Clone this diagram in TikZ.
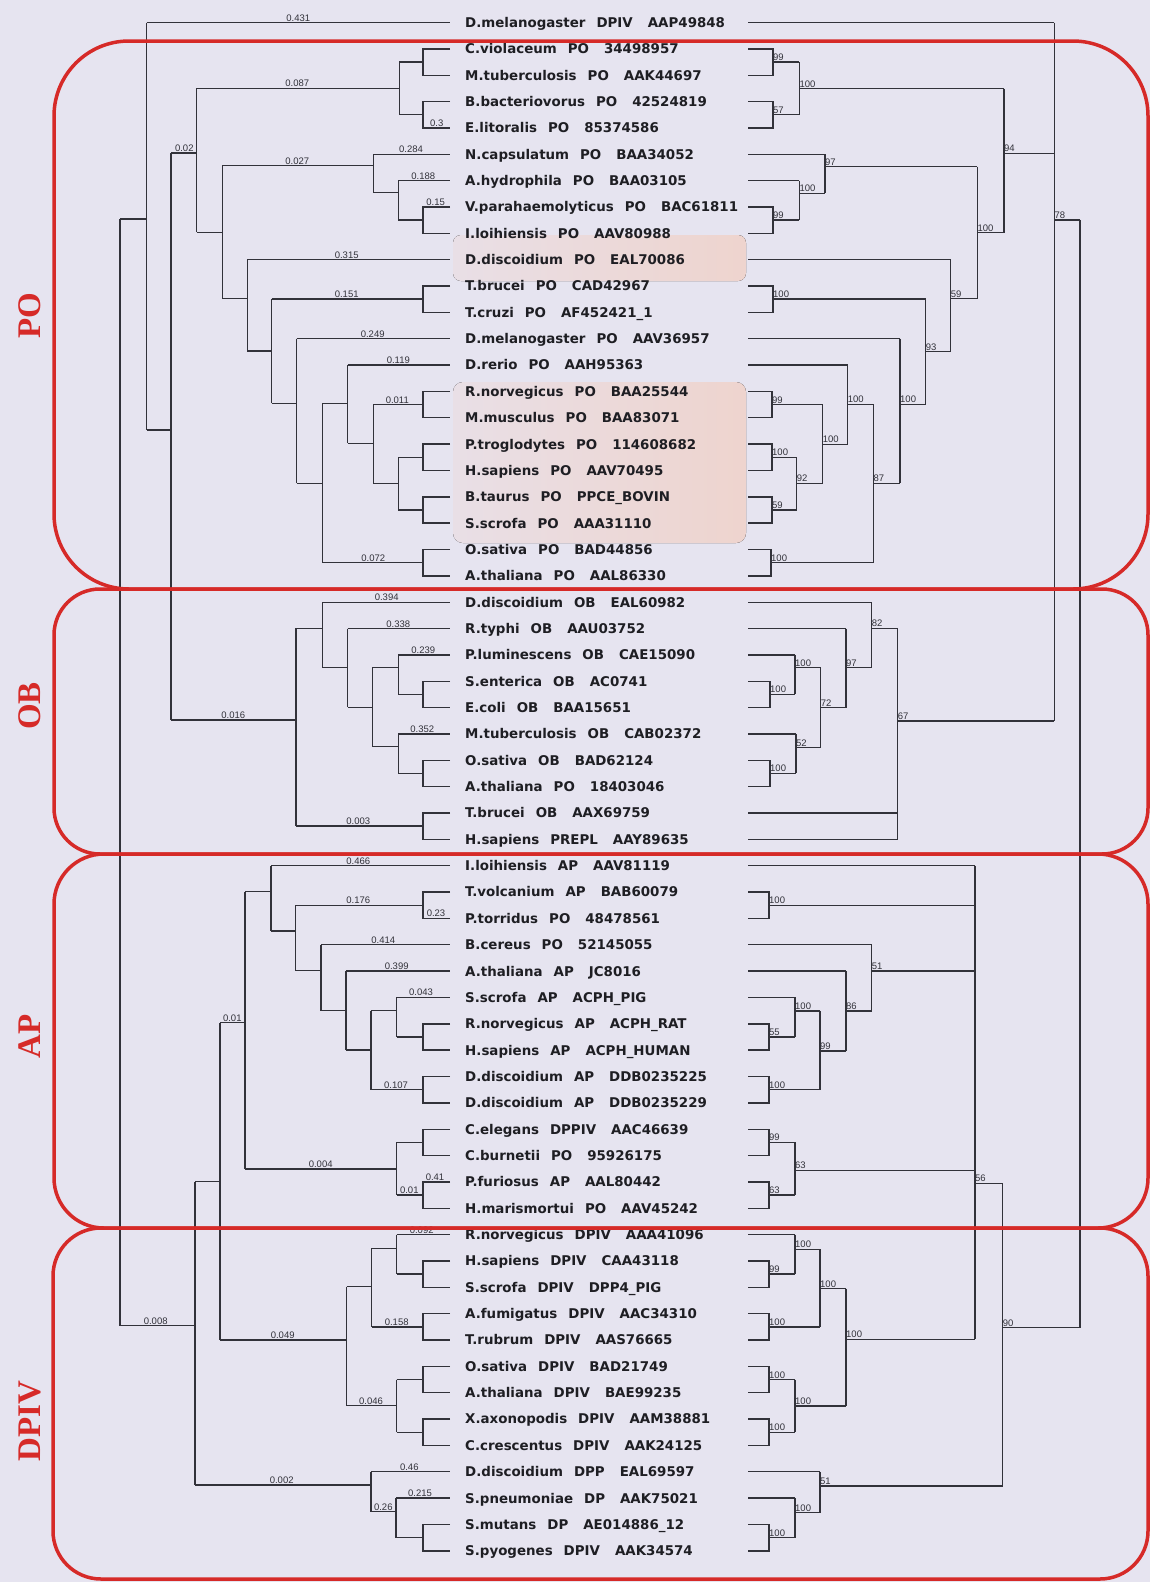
\documentclass[tikz,border=0pt]{standalone}
\usepackage{fontspec}
\newfontfamily\labfont{DejaVu Sans}
\newfontfamily\numfont{Liberation Sans}
\newfontfamily\grpfont{Liberation Serif}
\definecolor{bgc}{RGB}{230,228,240}
\definecolor{brc}{RGB}{50,50,58}
\definecolor{redc}{RGB}{214,42,40}
\definecolor{peach}{RGB}{238,212,206}
\definecolor{peachl}{RGB}{233,223,230}
\definecolor{txt}{RGB}{30,30,35}
\newcommand\trV[3]{\draw[br] (#1,{#2}) -- (#1,{#3});}
\newcommand\trH[3]{\draw[br] (#1,{#3}) -- (#2,{#3});}
\newcommand\trLeafL[2]{\draw[br] (#2,{ly(#1)}) -- (450,{ly(#1)});}
\newcommand\trCherryL[2]{\draw[br] (450,{ly(#1)}) -- (423,{ly(#1)}) -- (423,{ly(#1+1)}) -- (450,{ly(#1+1)}); \draw[br] (#2,{pm(#1)}) -- (423,{pm(#1)});}
\newcommand\trLeafR[2]{\draw[br] (748,{ly(#1)}) -- (#2,{ly(#1)});}
\newcommand\trCherryR[4]{\draw[br] (748,{ly(#1)}) -- (#2,{ly(#1)}) -- (#2,{ly(#1+1)}) -- (748,{ly(#1+1)}); \draw[br] (#2,{pm(#1)}) -- (#4,{pm(#1)}); \node[boot] at (#2,{pm(#1)-1.5}) {#3};}
\newcommand\trNodeR[6]{\draw[br] (#1,{#2}) -- (#1,{#3}); \draw[br] (#1,{#4}) -- (#5,{#4}); \node[boot] at (#1,{#4-1.5}) {#6};}
\newcommand\trBL[3]{\node[blen] at (#1,{#2-1.5}) {#3};}
\newcommand\trLab[4]{\node[leaflab] (L#1) at (465,{ly(#1)+4.9}) {#2\hspace{11pt}#3\hspace{15pt}#4};}
\begin{document}
\begin{tikzpicture}[x=1pt,y=-1pt,
  declare function={ly(\n)=22.5+(\n-1)*26.35; pm(\n)=22.5+(\n-0.5)*26.35;},
  br/.style={draw=brc,line width=1.4pt},
  boot/.style={font=\numfont\fontsize{9.5}{10}\selectfont,anchor=base west,inner sep=0pt,text=brc},
  blen/.style={font=\numfont\fontsize{9.5}{10}\selectfont,anchor=base,inner sep=0pt,text=brc},
  leaflab/.style={font=\labfont\bfseries\fontsize{13.4}{14}\selectfont,anchor=base west,inner sep=0pt,text=txt},
  redbox/.style={draw=redc,line width=3.5pt},
  grp/.style={font=\grpfont\bfseries\fontsize{33}{36}\selectfont,text=redc,rotate=90,inner sep=0pt}]
\useasboundingbox (0,0) rectangle (1150,1582);
\fill[bgc] (0,0) rectangle (1150,1582);
% faint highlight patches
\fill[rounded corners=8pt,left color=peachl,right color=peach] (453,235) rectangle (746,281);
\fill[rounded corners=10pt,left color=peachl,right color=peach] (453,382) rectangle (746,543);
% ---------------- left tree ----------------
\trV{120}{219}{1325.7} \trH{120}{146.7}{219} \trH{120}{195}{1325.7}
\trV{146.7}{ly(1)}{430} \trLeafL{1}{146.7} \trH{146.7}{171}{430}
\trV{171}{153}{720} \trH{171}{196.7}{153} \trH{171}{296}{720}
\trV{196.7}{88.3}{232.3} \trH{196.7}{399.3}{88.3} \trH{196.7}{222.3}{232.3}
\trV{399.3}{pm(2)}{pm(4)} \trCherryL{2}{399.3} \trCherryL{4}{399.3}
\trV{222.3}{165.7}{298.3} \trH{222.3}{373.3}{165.7} \trH{222.3}{247.3}{298.3}
\trV{373.3}{ly(6)}{192.7} \trLeafL{6}{373.3} \trH{373.3}{398.3}{192.7}
\trV{398.3}{ly(7)}{pm(8)} \trLeafL{7}{398.3} \trCherryL{8}{398.3}
\trV{247.3}{ly(10)}{351} \trLeafL{10}{247.3} \trH{247.3}{271.7}{351}
\trV{271.7}{pm(11)}{403.3} \trCherryL{11}{271.7} \trH{271.7}{296.7}{403.3}
\trV{296.7}{ly(13)}{483.3} \trLeafL{13}{296.7} \trH{296.7}{322.3}{483.3}
\trV{322.3}{403.3}{pm(21)} \trH{322.3}{347.7}{403.3} \trCherryL{21}{322.3}
\trV{347.7}{ly(14)}{443.3} \trLeafL{14}{347.7} \trH{347.7}{373.3}{443.3}
\trV{373.3}{pm(15)}{483.3} \trCherryL{15}{373.3} \trH{373.3}{398.3}{483.3}
\trV{398.3}{pm(17)}{pm(19)} \trCherryL{17}{398.3} \trCherryL{19}{398.3}
\trV{296}{628.3}{pm(31)} \trH{296}{322.3}{628.3} \trCherryL{31}{296}
\trV{322.3}{ly(23)}{667.3} \trLeafL{23}{322.3} \trH{322.3}{347.7}{667.3}
\trV{347.7}{ly(24)}{707.3} \trLeafL{24}{347.7} \trH{347.7}{372.7}{707.3}
\trV{372.7}{667.3}{746.7} \trH{372.7}{398.3}{667.3} \trH{372.7}{398.3}{746.7}
\trV{398.3}{ly(25)}{pm(26)} \trLeafL{25}{398.3} \trCherryL{26}{398.3}
\trV{398.3}{ly(28)}{pm(29)} \trLeafL{28}{398.3} \trCherryL{29}{398.3}
\trV{195}{1181.7}{1485} \trH{195}{220}{1181.7} \trH{195}{371}{1485}
\trV{220}{1022.7}{1340} \trH{220}{245}{1022.7} \trH{220}{346.7}{1340}
\trV{245}{891.7}{1169} \trH{245}{271}{891.7} \trH{245}{396.7}{1169}
\trV{271}{ly(33)}{931} \trLeafL{33}{271} \trH{271}{295.7}{931}
\trV{295.7}{pm(34)}{970.7} \trCherryL{34}{295.7} \trH{295.7}{321}{970.7}
\trV{321}{ly(36)}{1010.7} \trLeafL{36}{321} \trH{321}{346}{1010.7}
\trV{346}{ly(37)}{1050} \trLeafL{37}{346} \trH{346}{371}{1050}
\trV{371}{1010.7}{pm(41)} \trH{371}{396.7}{1010.7} \trCherryL{41}{371}
\trV{396.7}{ly(38)}{pm(39)} \trLeafL{38}{396.7} \trCherryL{39}{396.7}
\trV{396.7}{pm(43)}{pm(45)} \trCherryL{43}{396.7} \trCherryL{45}{396.7}
\trV{346.7}{1286.7}{1405.7} \trH{346.7}{371.7}{1286.7} \trH{346.7}{396.7}{1405.7}
\trV{371.7}{1248.3}{pm(50)} \trH{371.7}{396.7}{1248.3} \trCherryL{50}{371.7}
\trV{396.7}{ly(47)}{pm(48)} \trLeafL{47}{396.7} \trCherryL{48}{396.7}
\trV{396.7}{pm(52)}{pm(54)} \trCherryL{52}{396.7} \trCherryL{54}{396.7}
\trV{371}{ly(56)}{1511.7} \trLeafL{56}{371} \trH{371}{396}{1511.7}
\trV{396}{ly(57)}{pm(58)} \trLeafL{57}{396} \trCherryL{58}{396}
% branch lengths
\trBL{298.3}{22.5}{0.431} \trBL{297.3}{88.3}{0.087} \trBL{184.3}{153}{0.02}
\trBL{436.7}{127.9}{0.3} \trBL{411}{154.25}{0.284} \trBL{297.3}{165.7}{0.027}
\trBL{423.3}{180.6}{0.188} \trBL{435.7}{206.95}{0.15} \trBL{346.7}{259.65}{0.315}
\trBL{346.7}{299.2}{0.151} \trBL{372.7}{338.7}{0.249} \trBL{398.3}{365.05}{0.119}
\trBL{397.3}{404.6}{0.011} \trBL{373.3}{562.7}{0.072} \trBL{386.7}{602.2}{0.394}
\trBL{398.3}{628.55}{0.338} \trBL{423.3}{654.9}{0.239} \trBL{233.3}{720}{0.016}
\trBL{422.3}{733.95}{0.352} \trBL{358.3}{826.2}{0.003} \trBL{358.3}{865.7}{0.466}
\trBL{358.3}{905.2}{0.176} \trBL{436}{918.4}{0.23} \trBL{383.3}{944.75}{0.414}
\trBL{396.7}{971.1}{0.399} \trBL{421}{997.45}{0.043} \trBL{232.3}{1022.7}{0.01}
\trBL{396}{1089.7}{0.107} \trBL{320.7}{1169}{0.004} \trBL{409.3}{1195.1}{0.01}
\trBL{435}{1181.9}{0.41} \trBL{155.7}{1325.7}{0.008} \trBL{282.7}{1340}{0.049}
\trBL{396.7}{1326.8}{0.158} \trBL{371}{1405.7}{0.046} \trBL{281.7}{1485}{0.002}
\trBL{409.3}{1471.75}{0.46} \trBL{383.3}{1511.7}{0.26} \trBL{420}{1498.1}{0.215}
\trBL{421.7}{1234.6}{0.092}
% ---------------- right tree ----------------
\trLeafR{1}{1054.3}
\trCherryR{2}{773}{99}{799.3}
\trCherryR{4}{773}{57}{799.3}
\trNodeR{799.3}{pm(2)}{pm(4)}{88.5}{1004}{100}
\trNodeR{1004}{88.5}{232.5}{153.2}{1054.3}{94}
\trLeafR{6}{825}
\trNodeR{825}{ly(6)}{193.2}{166.5}{977.3}{97}
\trLeafR{7}{799.3}
\trNodeR{799.3}{ly(7)}{pm(8)}{193.2}{825}{100}
\trCherryR{8}{773}{99}{799.3}
\trNodeR{977.3}{166.5}{298.5}{232.5}{1004}{100}
\trLeafR{10}{950.7}
\trNodeR{950.7}{ly(10)}{351.5}{298.5}{977.3}{59}
\trCherryR{11}{773}{100}{925.7}
\trNodeR{925.7}{pm(11)}{404.2}{351.5}{950.7}{93}
\trLeafR{13}{900}
\trNodeR{900}{ly(13)}{483.2}{404.2}{925.7}{100}
\trNodeR{873.3}{404.2}{pm(21)}{483.2}{900}{87}
\trLeafR{14}{847.7}
\trNodeR{847.7}{ly(14)}{444.2}{404.2}{873.3}{100}
\trNodeR{822.7}{pm(15)}{483.2}{444.2}{847.7}{100}
\trCherryR{15}{772}{99}{822.7}
\trNodeR{796.7}{pm(17)}{pm(19)}{483.2}{822.7}{92}
\trCherryR{17}{772}{100}{796.7}
\trCherryR{19}{772}{59}{796.7}
\trCherryR{21}{771}{100}{873.3}
\trNodeR{1054.3}{ly(1)}{720.8}{219.8}{1080}{78}
\draw[br] (1080,219.8) -- (1080,1327.5);
\trLeafR{23}{871.7}
\trNodeR{871.7}{ly(23)}{667.5}{628.2}{897.7}{82}
\trLeafR{24}{846}
\trNodeR{846}{ly(24)}{707.5}{667.5}{871.7}{97}
\trLeafR{25}{795}
\trNodeR{795}{ly(25)}{pm(26)}{667.5}{820.7}{100}
\trCherryR{26}{770}{100}{795}
\trNodeR{820.7}{667.5}{747.5}{707.5}{846}{72}
\trLeafR{28}{796}
\trNodeR{796}{ly(28)}{pm(29)}{747.5}{820.7}{52}
\trCherryR{29}{770}{100}{796}
\trLeafR{31}{897.7} \trLeafR{32}{897.7}
\trNodeR{897.7}{628.2}{ly(32)}{720.8}{1054.3}{67}
\trLeafR{33}{975}
\trNodeR{975}{ly(33)}{1339.2}{1183.2}{1002.7}{56}
\trCherryR{34}{769}{100}{975}
\trLeafR{36}{871.7}
\trNodeR{871.7}{ly(36)}{1010.8}{970.8}{975}{51}
\trLeafR{37}{846}
\trNodeR{846}{ly(37)}{1050.8}{1010.8}{871.7}{86}
\trNodeR{820}{1010.8}{pm(41)}{1050.8}{846}{99}
\trLeafR{38}{795}
\trNodeR{795}{ly(38)}{pm(39)}{1010.8}{820}{100}
\trCherryR{39}{769}{55}{795}
\trCherryR{41}{769}{100}{820}
\trNodeR{795}{pm(43)}{pm(45)}{1170.2}{975}{63}
\trCherryR{43}{769}{99}{795}
\trCherryR{45}{769}{63}{795}
\trNodeR{1002.7}{1183.2}{1485.8}{1327.5}{1080}{90}
\trNodeR{846}{1288.5}{1405.8}{1339.2}{975}{100}
\trNodeR{820}{1249.2}{pm(50)}{1288.5}{846}{100}
\trLeafR{47}{795}
\trNodeR{795}{ly(47)}{pm(48)}{1249.2}{820}{100}
\trCherryR{48}{769}{99}{795}
\trCherryR{50}{769}{100}{820}
\trNodeR{795}{pm(52)}{pm(54)}{1405.8}{846}{100}
\trCherryR{52}{769}{100}{795}
\trCherryR{54}{769}{100}{795}
\trLeafR{56}{820}
\trNodeR{820}{ly(56)}{1512.5}{1485.8}{1002.7}{51}
\trLeafR{57}{795}
\trNodeR{795}{ly(57)}{pm(58)}{1512.5}{820}{100}
\trCherryR{58}{769}{100}{795}
% ---------------- leaf labels ----------------
\trLab{1}{D.melanogaster}{DPIV}{AAP49848}
\trLab{2}{C.violaceum}{PO}{34498957}
\trLab{3}{M.tuberculosis}{PO}{AAK44697}
\trLab{4}{B.bacteriovorus}{PO}{42524819}
\trLab{5}{E.litoralis}{PO}{85374586}
\trLab{6}{N.capsulatum}{PO}{BAA34052}
\trLab{7}{A.hydrophila}{PO}{BAA03105}
\trLab{8}{V.parahaemolyticus}{PO}{BAC61811}
\trLab{9}{I.loihiensis}{PO}{AAV80988}
\trLab{10}{D.discoidium}{PO}{EAL70086}
\trLab{11}{T.brucei}{PO}{CAD42967}
\trLab{12}{T.cruzi}{PO}{AF452421\_1}
\trLab{13}{D.melanogaster}{PO}{AAV36957}
\trLab{14}{D.rerio}{PO}{AAH95363}
\trLab{15}{R.norvegicus}{PO}{BAA25544}
\trLab{16}{M.musculus}{PO}{BAA83071}
\trLab{17}{P.troglodytes}{PO}{114608682}
\trLab{18}{H.sapiens}{PO}{AAV70495}
\trLab{19}{B.taurus}{PO}{PPCE\_BOVIN}
\trLab{20}{S.scrofa}{PO}{AAA31110}
\trLab{21}{O.sativa}{PO}{BAD44856}
\trLab{22}{A.thaliana}{PO}{AAL86330}
\trLab{23}{D.discoidium}{OB}{EAL60982}
\trLab{24}{R.typhi}{OB}{AAU03752}
\trLab{25}{P.luminescens}{OB}{CAE15090}
\trLab{26}{S.enterica}{OB}{AC0741}
\trLab{27}{E.coli}{OB}{BAA15651}
\trLab{28}{M.tuberculosis}{OB}{CAB02372}
\trLab{29}{O.sativa}{OB}{BAD62124}
\trLab{30}{A.thaliana}{PO}{18403046}
\trLab{31}{T.brucei}{OB}{AAX69759}
\trLab{32}{H.sapiens}{PREPL}{AAY89635}
\trLab{33}{I.loihiensis}{AP}{AAV81119}
\trLab{34}{T.volcanium}{AP}{BAB60079}
\trLab{35}{P.torridus}{PO}{48478561}
\trLab{36}{B.cereus}{PO}{52145055}
\trLab{37}{A.thaliana}{AP}{JC8016}
\trLab{38}{S.scrofa}{AP}{ACPH\_PIG}
\trLab{39}{R.norvegicus}{AP}{ACPH\_RAT}
\trLab{40}{H.sapiens}{AP}{ACPH\_HUMAN}
\trLab{41}{D.discoidium}{AP}{DDB0235225}
\trLab{42}{D.discoidium}{AP}{DDB0235229}
\trLab{43}{C.elegans}{DPPIV}{AAC46639}
\trLab{44}{C.burnetii}{PO}{95926175}
\trLab{45}{P.furiosus}{AP}{AAL80442}
\trLab{46}{H.marismortui}{PO}{AAV45242}
\trLab{47}{R.norvegicus}{DPIV}{AAA41096}
\trLab{48}{H.sapiens}{DPIV}{CAA43118}
\trLab{49}{S.scrofa}{DPIV}{DPP4\_PIG}
\trLab{50}{A.fumigatus}{DPIV}{AAC34310}
\trLab{51}{T.rubrum}{DPIV}{AAS76665}
\trLab{52}{O.sativa}{DPIV}{BAD21749}
\trLab{53}{A.thaliana}{DPIV}{BAE99235}
\trLab{54}{X.axonopodis}{DPIV}{AAM38881}
\trLab{55}{C.crescentus}{DPIV}{AAK24125}
\trLab{56}{D.discoidium}{DPP}{EAL69597}
\trLab{57}{S.pneumoniae}{DP}{AAK75021}
\trLab{58}{S.mutans}{DP}{AE014886\_12}
\trLab{59}{S.pyogenes}{DPIV}{AAK34574}
% ---------------- group boxes ----------------
\draw[redbox,rounded corners=75pt] (54,41) rectangle (1148,589);
\draw[redbox,rounded corners=46pt] (54,589) rectangle (1148,854);
\draw[redbox,rounded corners=50pt] (54,854) rectangle (1148,1228);
\draw[redbox,rounded corners=48pt] (53,1228) rectangle (1148,1579);
\node[grp] (gPO) at (29.5,316) {PO};
\node[grp] (gOB) at (29.5,706) {OB};
\node[grp] (gAP) at (29.5,1036) {AP};
\node[grp] (gDPIV) at (29.5,1421) {DPIV};
\end{tikzpicture}
\end{document}
